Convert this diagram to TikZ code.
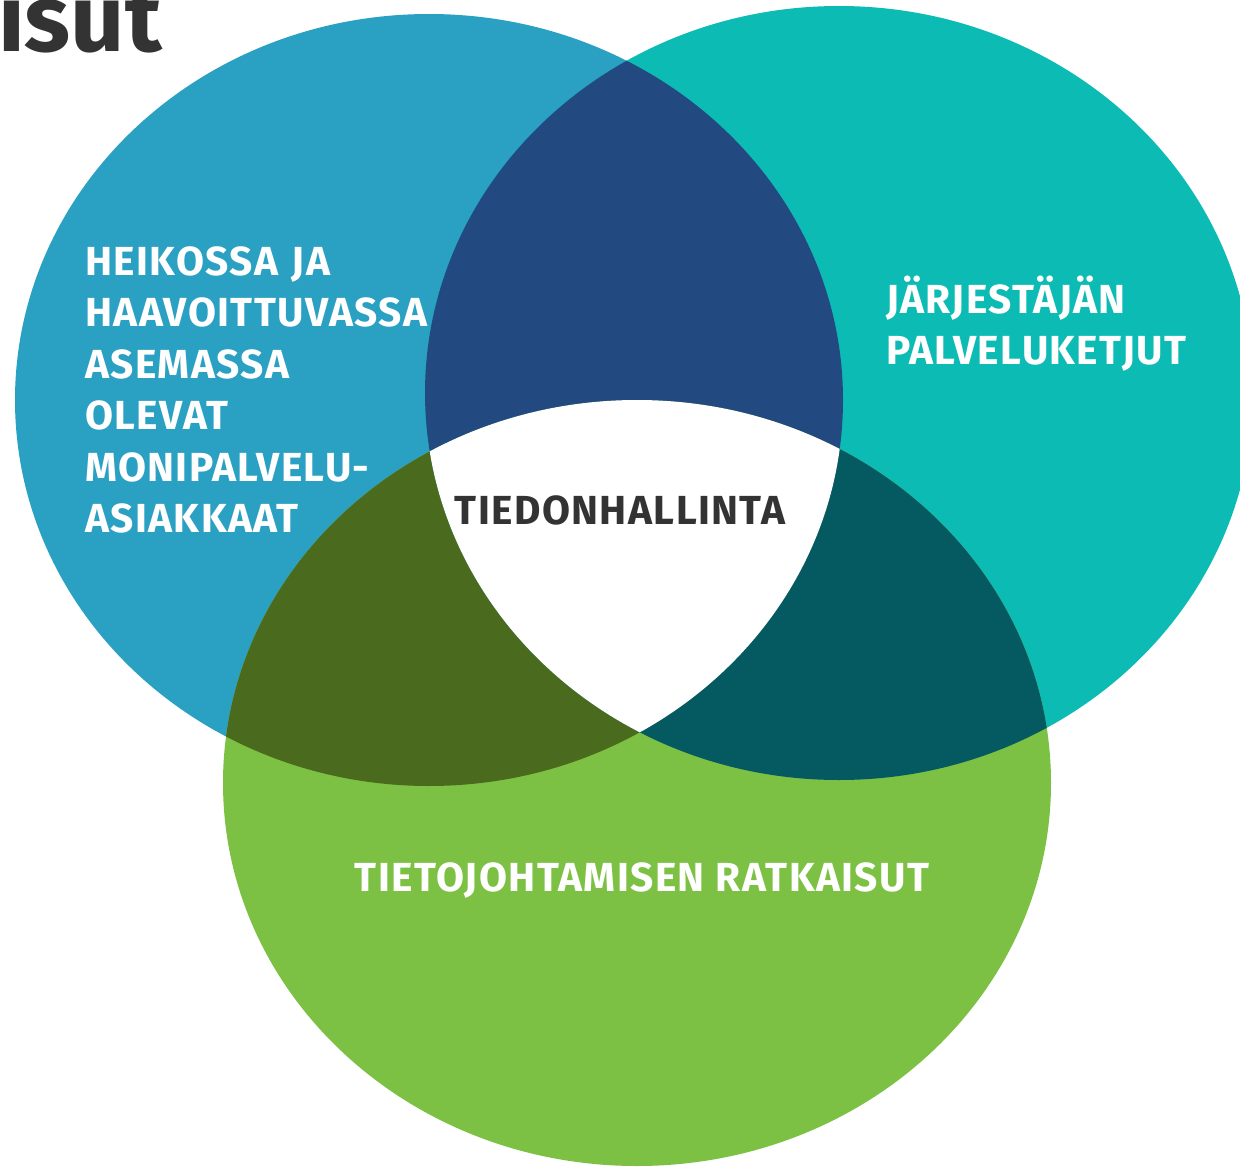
\documentclass[tikz,border=0pt]{standalone}
\usepackage{fontspec}
\setmainfont{Fira Sans}
\newfontfamily\lblfont[LetterSpace=3.5]{Fira Sans}
\definecolor{cLeft}{HTML}{2AA0C2}
\definecolor{cRight}{HTML}{0DBBB5}
\definecolor{cBottom}{HTML}{7CC143}
\definecolor{cLR}{HTML}{224A80}
\definecolor{cLB}{HTML}{4A6B1E}
\definecolor{cRB}{HTML}{055A61}
\definecolor{cDark}{HTML}{333333}
\tikzset{
  lbl/.style={text=white, font=\lblfont\bfseries\fontsize{40.6}{51.5}\selectfont, inner sep=0pt, align=left},
  midlbl/.style={text=cDark, font=\lblfont\bfseries\fontsize{40.6}{51.5}\selectfont, inner sep=0pt},
  titlelbl/.style={text=cDark, font=\bfseries\fontsize{95}{100}\selectfont, inner sep=0pt}
}
\newcommand{\ellLeft}{(429,400) ellipse [x radius=414pt, y radius=386pt]}
\newcommand{\ellRight}{(839,393) ellipse [x radius=414pt, y radius=387pt]}
\newcommand{\ellBottom}{(637,783) ellipse [x radius=414pt, y radius=383pt]}
\begin{document}
\begin{tikzpicture}[x=1pt,y=-1pt]
\useasboundingbox (0,0) rectangle (1240,1167);
\fill[white] (0,0) rectangle (1240,1167);
% title fragment
\node[titlelbl, anchor=base east] (title) at (162,51) {isut};
% circles
\fill[cLeft] \ellLeft;
\fill[cRight] \ellRight;
\fill[cBottom] \ellBottom;
\begin{scope}
  \clip \ellLeft;
  \fill[cLR] \ellRight;
  \fill[cLB] \ellBottom;
\end{scope}
\begin{scope}
  \clip \ellRight;
  \fill[cRB] \ellBottom;
  \clip \ellLeft;
  \fill[white] \ellBottom;
\end{scope}
% labels
\node[lbl, text width=380pt, anchor=base west] (left) at (85,275)
  {HEIKOSSA JA\\HAAVOITTUVASSA\\ASEMASSA\\OLEVAT\\MONIPALVELU-\\ASIAKKAAT};
\node[lbl, text width=340pt, anchor=base west] (right) at (886,313)
  {JÄRJESTÄJÄN\\PALVELUKETJUT};
\node[lbl, anchor=base] (bottom) at (642,891) {TIETOJOHTAMISEN RATKAISUT};
\node[midlbl, anchor=base] (center) at (620,524) {TIEDONHALLINTA};
\end{tikzpicture}
\end{document}
